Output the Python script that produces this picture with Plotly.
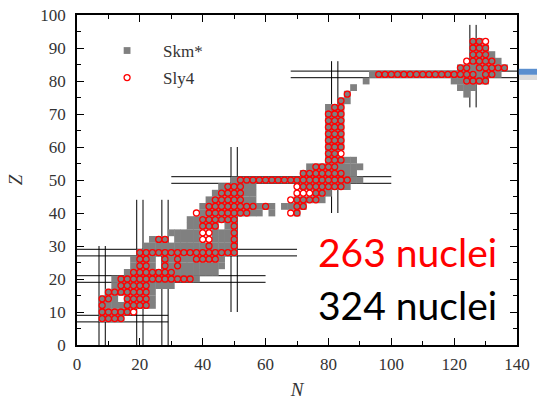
import plotly.graph_objects as go

# Even-even nuclei with a converged solution, stored as runs along each Z row:
# (Z, first N, last N), N stepping by 2.
skm_z    = [8, 10, 12, 14, 14, 16, 18, 20, 22, 24, 24, 26, 26, 28, 30, 32, 32, 32,
            34, 34, 36, 36, 38, 40, 40, 40, 42, 42, 42, 44, 44, 46, 46, 48, 48,
            50, 52, 54, 56, 58, 60, 62, 64, 66, 68, 70, 72, 74, 76, 76, 78, 78,
            80, 80, 82, 84, 86, 88, 90, 92]
skm_n_lo = [8, 8, 8, 8, 16, 10, 12, 12, 16, 18, 28, 18, 28, 20, 22, 24, 32, 44,
            30, 44, 36, 48, 36, 40, 62, 70, 40, 62, 66, 42, 70, 44, 76, 46, 72,
            50, 72, 74, 80, 80, 80, 80, 80, 80, 80, 80, 80, 84, 86, 124, 88, 122,
            92, 120, 94, 122, 126, 126, 126, 126]
skm_n_hi = [14, 16, 24, 12, 24, 24, 30, 38, 44, 24, 46, 24, 46, 50, 50, 28, 38, 50,
            38, 50, 44, 50, 50, 58, 62, 70, 60, 62, 72, 56, 78, 56, 80, 56, 86,
            90, 88, 90, 88, 82, 84, 84, 84, 84, 84, 84, 84, 86, 86, 124, 88, 126,
            92, 130, 134, 136, 134, 132, 130, 128]

sly_z    = [8, 10, 12, 12, 14, 14, 16, 18, 20, 22, 24, 24, 24, 26, 26, 26, 26,
            28, 30, 30, 32, 32, 32, 34, 34, 36, 36, 38, 40, 40, 40, 42, 42, 42,
            44, 44, 46, 46, 48, 48, 50, 52, 54, 56, 58, 60, 62, 64, 66, 68, 70,
            72, 74, 76, 80, 82, 82, 84, 84, 86, 88, 90, 92]
sly_n_lo = [8, 8, 8, 16, 8, 16, 10, 14, 14, 18, 20, 28, 32, 20, 28, 32, 38,
            20, 42, 50, 26, 40, 50, 40, 50, 40, 50, 40, 38, 42, 68, 42, 60, 70,
            44, 68, 46, 70, 48, 70, 52, 72, 76, 80, 80, 80, 80, 80, 80, 80, 80,
            82, 84, 86, 124, 96, 130, 122, 128, 124, 126, 126, 126]
sly_n_hi = [14, 18, 8, 22, 10, 22, 22, 22, 36, 30, 22, 28, 32, 22, 28, 32, 44,
            50, 42, 50, 28, 42, 50, 42, 50, 44, 50, 50, 38, 54, 70, 56, 60, 72,
            52, 76, 52, 78, 52, 84, 86, 84, 82, 84, 84, 84, 84, 84, 84, 84, 84,
            84, 84, 86, 130, 126, 132, 124, 136, 132, 130, 130, 130]

# Magic numbers: each is bracketed by a pair of lines at magic +/- 1
magic_n      = [8, 20, 28, 50, 82, 126]
magic_n_zlo  = [0, 0, 0, 10, 40, 72]
magic_n_zhi  = [30, 44, 44, 60, 86, 97]
magic_z      = [8, 20, 28, 50, 82]
magic_z_nlo  = [0, 0, 0, 30, 68]
magic_z_nhi  = [29, 60, 70, 100, 140]

legend_names = ["Skm*", "Sly4"]
count_labels = ["263 nuclei", "324 nuclei"]


def expand(zs, lo, hi):
    ns, zz = [], []
    for z, a, b in zip(zs, lo, hi):
        for n in range(a, b + 1, 2):
            ns.append(n)
            zz.append(z)
    return ns, zz


skm_n, skm_zz = expand(skm_z, skm_n_lo, skm_n_hi)
sly_n, sly_zz = expand(sly_z, sly_n_lo, sly_n_hi)

# Line segments for the magic-number guides
lx, ly = [], []
for m, z0, z1 in zip(magic_n, magic_n_zlo, magic_n_zhi):
    for off in (-1, 1):
        lx += [m + off, m + off, None]
        ly += [z0, z1, None]
for m, n0, n1 in zip(magic_z, magic_z_nlo, magic_z_nhi):
    for off in (-1, 1):
        lx += [n0, n1, None]
        ly += [m + off, m + off, None]

fig = go.Figure()
fig.add_trace(go.Scatter(x=lx, y=ly, mode="lines", line=dict(color="black", width=1),
                         hoverinfo="skip", showlegend=False))
fig.add_trace(go.Scatter(x=skm_n, y=skm_zz, mode="markers", name=legend_names[0],
                         legend="legend",
                         marker=dict(symbol="square", size=6.8, color="#808080",
                                     line=dict(width=0))))
fig.add_trace(go.Scatter(x=sly_n, y=sly_zz, mode="markers", name=legend_names[1],
                         legend="legend2",
                         marker=dict(symbol="circle-open", size=6, color="#ff0000",
                                     line=dict(width=1.3, color="#ff0000"))))

serif = "Liberation Serif"
axis_common = dict(showline=True, linecolor="black", linewidth=1.5, mirror="allticks",
                   ticks="inside", ticklen=7, tickwidth=1.2, tickcolor="black",
                   showgrid=False, zeroline=False, automargin=False,
                   tickfont=dict(family=serif, size=17, color="#333333"))

legend_common = dict(x=0.032, xanchor="left", yanchor="middle",
                     bgcolor="rgba(0,0,0,0)",
                     font=dict(family=serif, size=17, color="#333333"),
                     itemsizing="trace", itemwidth=62)

fig.update_layout(
    width=537, height=403,
    margin=dict(l=77, r=20, t=15, b=58, autoexpand=False),
    paper_bgcolor="white", plot_bgcolor="white",
    xaxis=dict(range=[0, 140], dtick=20, tick0=0, ticklabelstandoff=3,
               minor=dict(dtick=10, ticks="inside", ticklen=4, tickcolor="black"),
               title=dict(text="<i>N</i>", font=dict(family=serif, size=19, color="#333333"),
                          standoff=10),
               **axis_common),
    yaxis=dict(range=[0, 100], dtick=10, tick0=0, ticklabelstandoff=6,
               minor=dict(dtick=5, ticks="inside", ticklen=4, tickcolor="black"),
               title=dict(text="<i>Z</i>", font=dict(family=serif, size=19, color="#333333"),
                          standoff=13),
               **axis_common),
    legend=dict(y=0.891, **legend_common),
    legend2=dict(y=0.809, **legend_common),
    showlegend=True,
)

fig.add_annotation(x=0.752, y=0.282, xref="paper", yref="paper", text=count_labels[0],
                   xanchor="center", yanchor="middle", showarrow=False,
                   font=dict(family="Lato", size=39, color="#ff0000"))
fig.add_annotation(x=0.752, y=0.12, xref="paper", yref="paper", text=count_labels[1],
                   xanchor="center", yanchor="middle", showarrow=False,
                   font=dict(family="Lato", size=39, color="#000000"))

# Blue pointer bar leaving the frame on the right, with its soft shadow
fig.add_shape(type="rect", xref="paper", yref="paper", x0=1.004, x1=1.05, y0=0.803, y1=0.82,
              fillcolor="#dcdcdc", line=dict(width=0), layer="below")
fig.add_shape(type="rect", xref="paper", yref="paper", x0=1.004, x1=1.05, y0=0.819, y1=0.837,
              fillcolor="#5b8fcf", line=dict(width=0))

fig.write_html("out.html")
